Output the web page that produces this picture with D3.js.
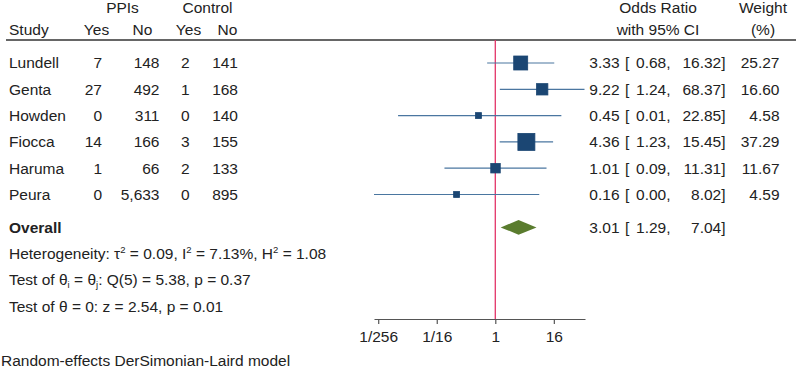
<!DOCTYPE html>
<html>
<head>
<meta charset="utf-8">
<script src="https://cdn.jsdelivr.net/npm/d3@7"></script>
<style>
  body { margin: 0; background: #fff; }
  text { font-family: "Liberation Sans", Arial, sans-serif; font-size: 15.5px; fill: #222; }
</style>
</head>
<body>
<svg id="chart" width="796" height="369"></svg>
<script>
// study data
const studies = ["Lundell", "Genta", "Howden", "Fiocca", "Haruma", "Peura"];
const ppiYes = [7, 27, 0, 14, 1, 0];
const ppiNo = [148, 492, 311, 166, 66, 5633];
const ctlYes = [2, 1, 0, 3, 2, 0];
const ctlNo = [141, 168, 140, 155, 133, 895];
const oddsRatio = [3.33, 9.22, 0.45, 4.36, 1.01, 0.16];
const ciLow = [0.68, 1.24, 0.01, 1.23, 0.09, 0.00];
const ciHigh = [16.32, 68.37, 22.85, 15.45, 11.31, 8.02];
const weight = [25.27, 16.60, 4.58, 37.29, 11.67, 4.59];

// overall estimate
const overall = { or: 3.01, lo: 1.29, hi: 7.04 };

// axis
const axisExtent = [0.0032, 70];
const tickValues = [1 / 256, 1 / 16, 1, 16];
const tickLabels = ["1/256", "1/16", "1", "16"];

const svg = d3.select("#chart");
const fmt = d3.format(".2f");
const intFmt = d3.format(",");

// log scale for odds ratios
const x = d3.scaleLog().base(2).domain(axisExtent).range([374, 585]).clamp(true);
// row positions (fractional rows for the summary lines)
const y = d3.scaleLinear().domain([0, 5]).range([63, 194.5]);
const side = d3.scaleSqrt().domain([0, d3.max(weight)]).range([0, 17]);

const headerRuleY = 40;
const axisY = 319;

// header
const header = svg.append("g");
header.append("text").attr("x", 122.5).attr("y", 13).attr("text-anchor", "middle").text("PPIs");
header.append("text").attr("x", 207.5).attr("y", 13).attr("text-anchor", "middle").text("Control");
header.append("text").attr("x", 9).attr("y", 35).text("Study");
header.append("text").attr("x", 96.5).attr("y", 35).attr("text-anchor", "middle").text("Yes");
header.append("text").attr("x", 142.5).attr("y", 35).attr("text-anchor", "middle").text("No");
header.append("text").attr("x", 188.5).attr("y", 35).attr("text-anchor", "middle").text("Yes");
header.append("text").attr("x", 227.5).attr("y", 35).attr("text-anchor", "middle").text("No");
header.append("text").attr("x", 658).attr("y", 13).attr("text-anchor", "middle").text("Odds Ratio");
header.append("text").attr("x", 658).attr("y", 35).attr("text-anchor", "middle").text("with 95% CI");
header.append("text").attr("x", 763).attr("y", 13).attr("text-anchor", "middle").text("Weight");
header.append("text").attr("x", 763).attr("y", 35).attr("text-anchor", "middle").text("(%)");

svg.append("line")
  .attr("x1", 6).attr("x2", 796)
  .attr("y1", headerRuleY).attr("y2", headerRuleY)
  .attr("stroke", "#333").attr("stroke-width", 1.5);

// no-effect line
svg.append("line")
  .attr("x1", x(1)).attr("x2", x(1))
  .attr("y1", headerRuleY).attr("y2", axisY)
  .attr("stroke", "#e33468").attr("stroke-width", 1.3);

// study rows
const rows = svg.selectAll(".row")
  .data(studies)
  .join("g")
  .attr("class", "row")
  .attr("transform", (d, i) => `translate(0,${y(i)})`);

const cols = [
  { x: 9, anchor: "start", val: (d, i) => d },
  { x: 102, anchor: "end", val: (d, i) => intFmt(ppiYes[i]) },
  { x: 159.5, anchor: "end", val: (d, i) => intFmt(ppiNo[i]) },
  { x: 189.5, anchor: "end", val: (d, i) => intFmt(ctlYes[i]) },
  { x: 238, anchor: "end", val: (d, i) => intFmt(ctlNo[i]) },
  { x: 619.5, anchor: "end", val: (d, i) => fmt(oddsRatio[i]) },
  { x: 625, anchor: "start", val: () => "[" },
  { x: 670.5, anchor: "end", val: (d, i) => fmt(ciLow[i]) + "," },
  { x: 725.5, anchor: "end", val: (d, i) => fmt(ciHigh[i]) + "]" },
  { x: 779.5, anchor: "end", val: (d, i) => fmt(weight[i]) }
];

cols.forEach(c => {
  rows.append("text")
    .attr("x", c.x)
    .attr("dy", "0.35em")
    .attr("text-anchor", c.anchor)
    .text(c.val);
});

rows.append("line")
  .attr("x1", (d, i) => x(ciLow[i]))
  .attr("x2", (d, i) => x(ciHigh[i]))
  .attr("stroke", "#4a76a0").attr("stroke-width", 1.2);

rows.append("rect")
  .attr("x", (d, i) => x(oddsRatio[i]) - side(weight[i]) / 2)
  .attr("y", (d, i) => -side(weight[i]) / 2)
  .attr("width", (d, i) => side(weight[i]))
  .attr("height", (d, i) => side(weight[i]))
  .attr("fill", "#1b4673")
  .attr("stroke", "#1b4673").attr("stroke-width", 0.8);

// overall row
const oy = y(6.25);
svg.append("text").attr("x", 9).attr("y", oy).attr("dy", "0.35em")
  .attr("font-weight", "bold").text("Overall");
svg.append("path")
  .attr("d", `M${x(overall.lo)},${oy} L${x(overall.or)},${oy - 7.3} L${x(overall.hi)},${oy} L${x(overall.or)},${oy + 7.3} Z`)
  .attr("fill", "#5a7c2e");
[
  { x: 619.5, anchor: "end", t: fmt(overall.or) },
  { x: 625, anchor: "start", t: "[" },
  { x: 670.5, anchor: "end", t: fmt(overall.lo) + "," },
  { x: 725.5, anchor: "end", t: fmt(overall.hi) + "]" }
].forEach(c => {
  svg.append("text").attr("x", c.x).attr("y", oy).attr("dy", "0.35em")
    .attr("text-anchor", c.anchor).text(c.t);
});

// heterogeneity lines, parts with sup/sub shift the baseline and the next part shifts back
function addLine(rowIdx, parts) {
  const base = y(rowIdx) + 5.4;
  const t = svg.append("text").attr("x", 9);
  parts.forEach(p => {
    if (typeof p === "string") {
      t.append("tspan").attr("y", base).text(p);
    } else {
      t.append("tspan").attr("y", p.sup ? base - 6.5 : base + 3)
        .attr("font-size", "9.5px").text(p.t);
    }
  });
}
addLine(7.25, ["Heterogeneity: \u03c4", { t: "2", sup: true }, " = 0.09, I", { t: "2", sup: true },
  " = 7.13%, H", { t: "2", sup: true }, " = 1.08"]);
addLine(8.25, ["Test of \u03b8", { t: "i", sup: false }, " = \u03b8", { t: "j", sup: false },
  ": Q(5) = 5.38, p = 0.37"]);
addLine(9.25, ["Test of \u03b8 = 0: z = 2.54, p = 0.01"]);

// x axis
const axis = d3.axisBottom(x)
  .tickValues(tickValues)
  .tickFormat((d, i) => tickLabels[i])
  .tickSize(5)
  .tickSizeOuter(0);
const gAxis = svg.append("g").attr("transform", `translate(0,${axisY})`).call(axis);
gAxis.select(".domain").attr("stroke", "#555").attr("stroke-width", 1.2);
gAxis.selectAll(".tick line").attr("stroke", "#555").attr("stroke-width", 1.2);
gAxis.selectAll(".tick text")
  .attr("font-family", "Liberation Sans, Arial, sans-serif")
  .attr("font-size", 15.5).attr("fill", "#222").attr("dy", "0.95em");

svg.append("text").attr("x", 1).attr("y", 366).text("Random-effects DerSimonian-Laird model");
</script>
</body>
</html>
